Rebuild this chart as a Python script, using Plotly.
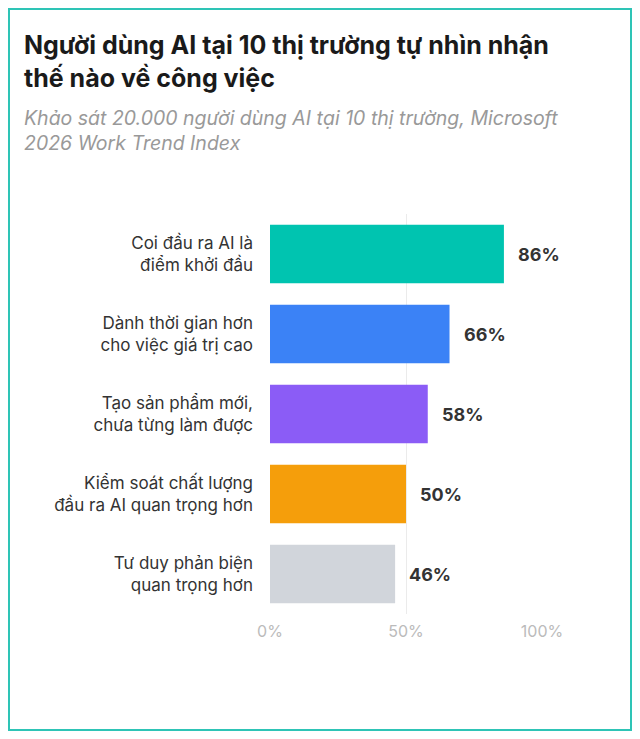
import plotly.graph_objects as go

labels = ["Coi đầu ra AI là<br>điểm khởi đầu",
          "Dành thời gian hơn<br>cho việc giá trị cao",
          "Tạo sản phẩm mới,<br>chưa từng làm được",
          "Kiểm soát chất lượng<br>đầu ra AI quan trọng hơn",
          "Tư duy phản biện<br>quan trọng hơn"]
values = [86, 66, 58, 50, 46]
colors = ["#00C4B0", "#3B82F6", "#8B5CF6", "#F59E0B", "#D1D5DB"]
tick_vals = [0, 50, 100]
tick_text = ["0%", "50%", "100%"]

# page adds an 8px body margin, so draw in a slightly smaller canvas
OFF = 8
W, H = 640 - 2 * OFF, 739 - 2 * OFF
L, R, T, B = 270 - OFF, 98 - OFF, 214 - OFF, 125 - OFF
pw, ph = W - L - R, H - T - B

def px(x):
    return (x - OFF - L) / pw

def py(y):
    return 1 - (y - OFF - T) / ph

fig = go.Figure(go.Bar(
    y=labels, x=values, orientation="h",
    marker=dict(color=colors, line_width=0),
))

for lab, v in zip(labels, values):
    fig.add_annotation(x=v, y=lab, text=f"<b>{v}%</b>", showarrow=False,
                       xanchor="left", xshift=12,
                       font=dict(size=18, color="#333333", family="Inter"))

fig.update_layout(
    width=W, height=H,
    margin=dict(l=L, r=R, t=T, b=B),
    paper_bgcolor="white", plot_bgcolor="white",
    font=dict(family="Inter", color="#333333"),
    bargap=0.27, showlegend=False,
    xaxis=dict(range=[0, 100], tickvals=tick_vals, ticktext=tick_text,
               showgrid=True, gridcolor="#EBEBEB", gridwidth=1, zeroline=False,
               tickfont=dict(size=16, color="#BBBBBB"), ticklabelstandoff=6),
    yaxis=dict(autorange="reversed", tickfont=dict(size=17, color="#333333"),
               ticklabelstandoff=16, showgrid=False),
    shapes=[dict(type="rect", xref="paper", yref="paper",
                 x0=px(OFF + 1), x1=px(OFF + W - 1), y0=py(OFF + H - 1), y1=py(OFF + 1),
                 line=dict(color="#2EC4B6", width=2), fillcolor="rgba(0,0,0,0)",
                 layer="below")],
)
fig.add_annotation(xref="paper", yref="paper", x=px(22), y=py(28), xanchor="left", yanchor="top",
                   align="left", showarrow=False,
                   text="<b>Người dùng AI tại 10 thị trường tự nhìn nhận<br>thế nào về công việc</b>",
                   font=dict(size=25, color="#1a1a1a", family="Inter"))
fig.add_annotation(xref="paper", yref="paper", x=px(22), y=py(104), xanchor="left", yanchor="top",
                   align="left", showarrow=False,
                   text="<i>Khảo sát 20.000 người dùng AI tại 10 thị trường, Microsoft<br>2026 Work Trend Index</i>",
                   font=dict(size=19.5, color="#999999", family="Inter"))

fig.write_html("out.html")
